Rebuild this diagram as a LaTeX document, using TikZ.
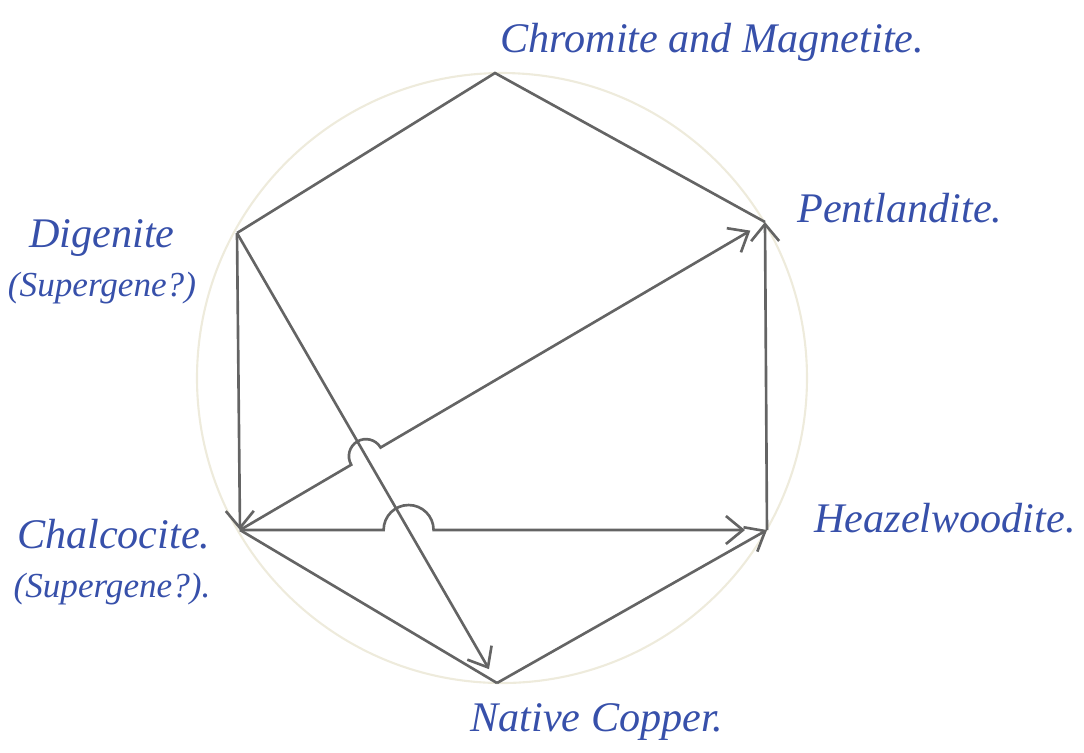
\documentclass[tikz,border=0pt]{standalone}
\usepackage{fontspec}
\setmainfont{Liberation Serif}
\usetikzlibrary{arrows.meta,intersections,calc}
\definecolor{ink}{RGB}{55,80,170}
\definecolor{pencil}{RGB}{100,100,100}
\definecolor{faint}{RGB}{238,235,220}
\newcommand{\querytext}[1]{{\fontsize{10}{11}\selectfont #1}}
\begin{document}
\begin{tikzpicture}[>={Straight Barb[length=1.7mm,width=2.8mm]},
  edge/.style={pencil,line width=0.75pt},
  mineral/.style={ink,font=\itshape\fontsize{12}{14}\selectfont,align=center}]
\useasboundingbox (0,0) rectangle (10.84,-7.52);
\draw[faint,line width=0.6pt] (5.02,-3.78) circle (3.05);

% corners of the hexagon
\coordinate (top) at (4.95,-0.73);
\coordinate (pent) at (7.65,-2.22);
\coordinate (heaz) at (7.67,-5.30);
\coordinate (nat) at (4.97,-6.83);
\coordinate (chal) at (2.40,-5.30);
\coordinate (dig) at (2.37,-2.33);

\node[mineral,anchor=west] (lchrom) at (4.88,-0.42) {Chromite and Magnetite.};
\node[mineral,anchor=west] (lpent) at (7.85,-2.08) {Pentlandite.};
\node[mineral,anchor=west] (lheaz) at (8.02,-5.18) {Heazelwoodite.};
\node[mineral,anchor=west] (lnat) at (4.58,-7.22) {Native Copper.};
\node[mineral] (ldig) at (1.02,-2.62) {Digenite\\\querytext{(Supergene?)}};
\node[mineral,align=right] (lchal) at (1.12,-5.62) {Chalcocite.\\\querytext{(Supergene?).}};

\path[name path=dn] (dig) -- (nat);
\path[name path=ch] (chal) -- (heaz);
\path[name path=cp] (chal) -- (pent);
\path[name intersections={of=dn and ch,by=x1}];
\path[name intersections={of=dn and cp,by=x2}];

\draw[edge] (dig) -- (top) -- (pent);
\draw[edge,->] (dig) -- (chal);
\draw[edge,->,shorten >=0.16cm] (dig) -- (nat);
\draw[edge] (chal) -- (nat);
\draw[edge,->] (nat) -- (heaz);
\draw[edge,->] (heaz) -- (pent);
\draw[edge,->,shorten >=0.22cm] (chal) -- ($(x1)+(-0.25,0)$)
  arc[start angle=180,end angle=0,radius=0.25] -- (heaz);
\draw[edge,->,shorten >=0.17cm] (chal) -- ($(x2)!0.17cm!(chal)$)
  arc[start angle=210.4,end angle=30.4,radius=0.17] -- (pent);
\end{tikzpicture}
\end{document}
